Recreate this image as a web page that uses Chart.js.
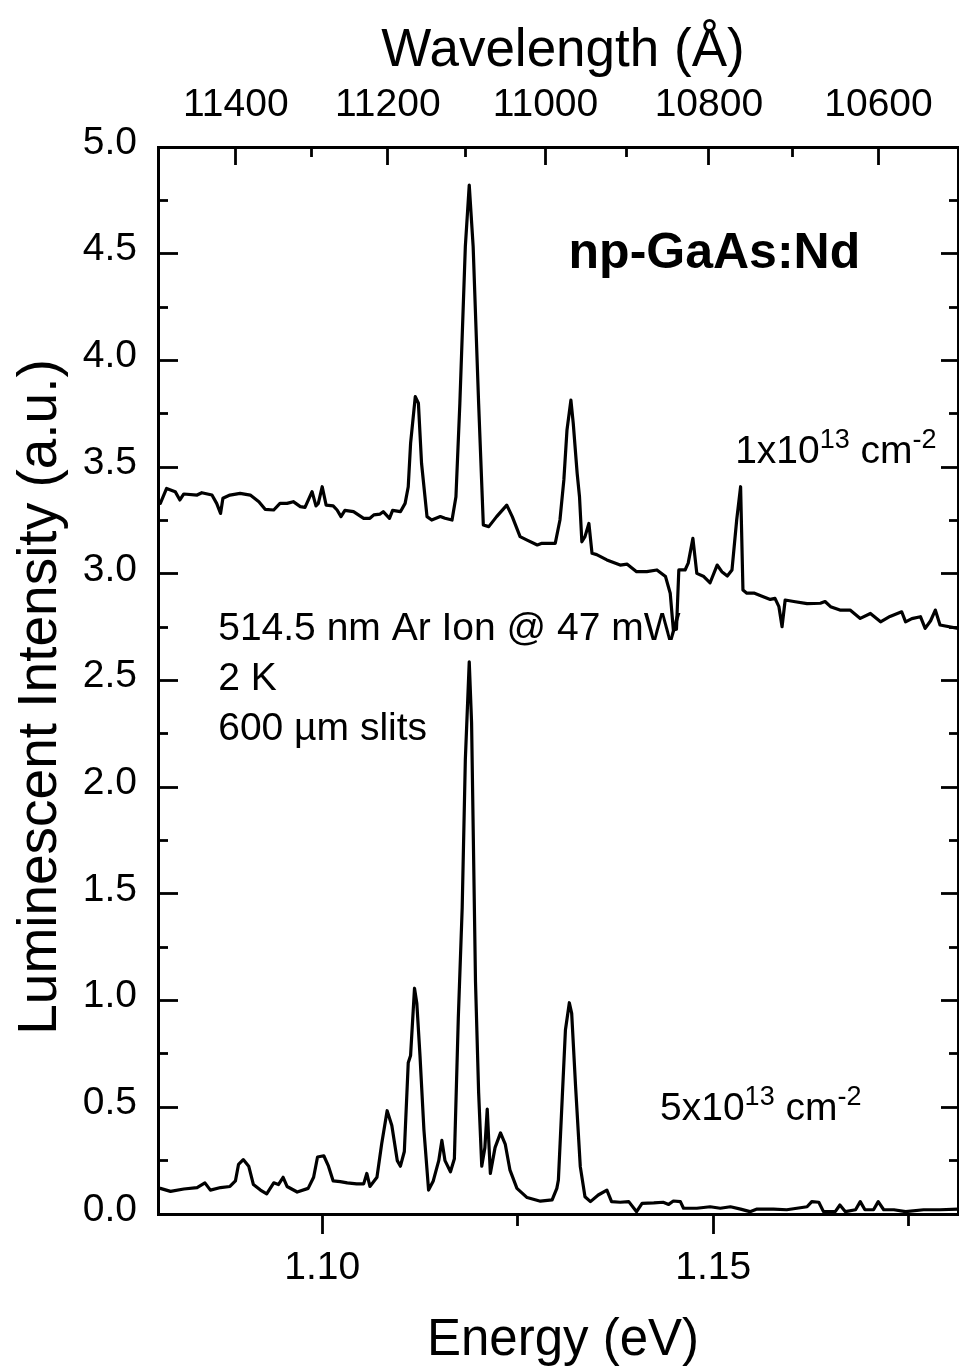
<!DOCTYPE html>
<html><head><meta charset="utf-8">
<script src="https://cdn.jsdelivr.net/npm/chart.js@4.4.0/dist/chart.umd.min.js"></script>
<style>html,body{margin:0;padding:0;background:#fff}canvas{display:block}</style>
</head><body>
<canvas id="c" width="959" height="1368"></canvas>
<script>
// ---- data ----
const upperEnergy = [1.0793,1.0801,1.0812,1.0818,1.0823,1.0840,1.0846,1.0859,1.0865,1.0870,
1.0873,1.0882,1.0895,1.0908,1.0919,1.0927,1.0938,1.0946,1.0955,1.0963,
1.0972,1.0978,1.0987,1.0992,1.0995,1.1000,1.1005,1.1014,1.1019,1.1024,
1.1029,1.1040,1.1053,1.1061,1.1066,1.1074,1.1078,1.1086,1.1090,1.1100,
1.1106,1.1110,1.1113,1.1119,1.1123,1.1127,1.1134,1.1140,1.1151,1.1157,
1.1166,1.1171,1.1176,1.1183,1.1188,1.1193,1.1200,1.1206,1.1213,1.1223,
1.1236,1.1243,1.1253,1.1262,1.1275,1.1281,1.1298,1.1304,1.1309,1.1313,
1.1318,1.1321,1.1326,1.1329,1.1332,1.1336,1.1341,1.1345,1.1351,1.1364,
1.1381,1.1390,1.1402,1.1415,1.1428,1.1439,1.1445,1.1449,1.1453,1.1456,
1.1464,1.1468,1.1474,1.1479,1.1488,1.1496,1.1505,1.1511,1.1518,1.1524,
1.1530,1.1535,1.1538,1.1543,1.1552,1.1564,1.1573,1.1579,1.1584,1.1588,
1.1592,1.1603,1.1620,1.1637,1.1643,1.1650,1.1662,1.1675,1.1688,1.1701,
1.1714,1.1726,1.1741,1.1746,1.1754,1.1765,1.1771,1.1778,1.1784,1.1790,
1.1813];
const upperIntensity = [3.33,3.40,3.385,3.346,3.374,3.369,3.380,3.369,3.330,3.283,
3.354,3.369,3.377,3.369,3.338,3.302,3.299,3.330,3.330,3.338,
3.315,3.311,3.385,3.318,3.33,3.408,3.322,3.318,3.299,3.268,
3.297,3.291,3.260,3.260,3.276,3.28,3.291,3.260,3.297,3.291,
3.330,3.408,3.611,3.830,3.799,3.518,3.268,3.252,3.268,3.26,
3.252,3.361,3.799,4.533,4.822,4.533,3.799,3.229,3.221,3.268,
3.322,3.268,3.174,3.158,3.135,3.143,3.143,3.252,3.440,3.674,
3.814,3.705,3.471,3.361,3.150,3.174,3.236,3.096,3.09,3.065,
3.041,3.045,3.010,3.010,3.018,2.987,2.909,2.737,2.74,3.018,
3.018,3.05,3.166,3.002,2.987,2.958,3.041,3.01,2.99,3.018,
3.252,3.408,2.924,2.909,2.91,2.893,2.88,2.885,2.846,2.752,
2.877,2.87,2.86,2.862,2.87,2.846,2.830,2.830,2.791,2.814,
2.775,2.80,2.822,2.775,2.79,2.799,2.744,2.78,2.830,2.760,
2.744];
const lowerEnergy = [1.0793,1.0806,1.0823,1.0840,1.0850,1.0857,1.0870,1.0882,1.0889,1.0893,
1.0899,1.0906,1.0912,1.0921,1.0929,1.0938,1.0944,1.0950,1.0955,1.0968,
1.0982,1.0989,1.0994,1.1002,1.1008,1.1014,1.1023,1.1032,1.1044,1.1053,
1.1057,1.1061,1.1070,1.1076,1.1083,1.1089,1.1096,1.1100,1.1105,1.1110,
1.1113,1.1118,1.1121,1.1125,1.1130,1.1136,1.1142,1.1149,1.1153,1.1157,
1.1164,1.1169,1.1174,1.1179,1.1183,1.1188,1.1191,1.1196,1.1200,1.1204,
1.1208,1.1211,1.1215,1.1221,1.1228,1.1234,1.1240,1.1249,1.1262,1.1279,
1.1294,1.1300,1.1302,1.1307,1.1311,1.1316,1.1319,1.1324,1.1330,1.1336,
1.1343,1.1353,1.1364,1.1370,1.1381,1.1392,1.1402,1.1409,1.1424,1.1436,
1.1443,1.1449,1.1458,1.1462,1.1479,1.1496,1.1509,1.1522,1.1535,1.1547,
1.1556,1.1577,1.1594,1.1607,1.1620,1.1626,1.1635,1.1641,1.1656,1.1662,
1.1669,1.1682,1.1688,1.1694,1.1705,1.1711,1.1718,1.1731,1.1746,1.1769,
1.1790,1.1813];
const lowerIntensity = [0.120,0.106,0.117,0.124,0.146,0.112,0.124,0.129,0.155,0.233,
0.255,0.224,0.138,0.112,0.094,0.146,0.138,0.172,0.129,0.103,
0.120,0.172,0.267,0.273,0.224,0.155,0.152,0.146,0.141,0.141,
0.190,0.129,0.172,0.328,0.484,0.415,0.250,0.224,0.293,0.709,
0.743,1.058,0.986,0.743,0.397,0.112,0.155,0.250,0.345,0.250,
0.198,0.259,0.916,1.436,2.128,2.587,2.301,1.089,0.570,0.224,
0.311,0.492,0.190,0.311,0.380,0.328,0.207,0.120,0.077,0.060,
0.066,0.120,0.159,0.550,0.862,0.990,0.940,0.597,0.222,0.081,
0.058,0.089,0.112,0.058,0.055,0.058,0.011,0.050,0.052,0.055,
0.045,0.061,0.058,0.027,0.027,0.034,0.027,0.034,0.023,0.011,
0.023,0.023,0.020,0.027,0.034,0.058,0.055,0.011,0.011,0.042,
0.011,0.020,0.058,0.020,0.020,0.058,0.020,0.020,0.011,0.020,
0.020,0.023];

// ---- axes / ticks ----
const energyRange = [1.0790, 1.1813];
const intensityRange = [0, 5];
const energyTicks = [1.10, 1.15];
const energyTickLabels = ['1.10', '1.15'];
const energyMinorTicks = [1.125, 1.175];
const intensityTicks = [0, 0.5, 1.0, 1.5, 2.0, 2.5, 3.0, 3.5, 4.0, 4.5, 5.0];
const intensityTickLabels = ['0.0','0.5','1.0','1.5','2.0','2.5','3.0','3.5','4.0','4.5','5.0'];
const intensityMinorTicks = [0.25,0.75,1.25,1.75,2.25,2.75,3.25,3.75,4.25,4.75];
const wavelengthTicks = [11400, 11200, 11000, 10800, 10600];
const wavelengthTickLabels = ['11400','11200','11000','10800','10600'];
const wavelengthMinorTicks = [11300, 11100, 10900, 10700];
const HC = 12414; // eV·Å, conversion used by the printed wavelength axis

const FONT = '"Liberation Sans", Arial, Helvetica, sans-serif';
const BLACK = '#000';

function grid(len) {
  return { drawOnChartArea: false, drawTicks: true, tickLength: len, tickWidth: 2.8, tickColor: BLACK };
}
function setTicks(values) {
  return (s) => { s.ticks = values.map(v => ({ value: v })); };
}
function fitH(h) {
  return (s) => { s.height = h; s.paddingLeft = 0; s.paddingRight = 0; };
}
function fitW(w) {
  return (s) => { s.width = w; s.paddingTop = 0; s.paddingBottom = 0; };
}
function energyAxis(extra) {
  return Object.assign({ type: 'linear', min: energyRange[0], max: energyRange[1], bounds: 'data' }, extra);
}
function intensityAxis(extra) {
  return Object.assign({ type: 'linear', min: intensityRange[0], max: intensityRange[1], bounds: 'data' }, extra);
}
const tickFont = { family: FONT, size: 39 };
const spine = { display: true, color: BLACK, width: 3 };

const annotations = [
  { e: 1.1315, v: 4.433, font: 'bold 50px ' + FONT, parts: [{ t: 'np-GaAs:Nd' }] },
  { e: 1.1528, v: 3.519, size: 39, parts: [{ t: '1x10' }, { t: '13', sup: true }, { t: ' cm' }, { t: '-2', sup: true }] },
  { e: 1.1432, v: 0.440, size: 39, parts: [{ t: '5x10' }, { t: '13', sup: true }, { t: ' cm' }, { t: '-2', sup: true }] },
  { e: 1.0867, v: 2.690, size: 39, parts: [{ t: '514.5 nm Ar Ion @ 47 mW' }] },
  { e: 1.0867, v: 2.455, size: 39, parts: [{ t: '2 K' }] },
  { e: 1.0867, v: 2.221, size: 39, parts: [{ t: '600 \u00b5m slits' }] }
];

const textPlugin = {
  id: 'texts',
  afterDraw(chart) {
    const ctx = chart.ctx;
    const xs = chart.scales.x, ys = chart.scales.y;
    const ca = chart.chartArea;
    ctx.save();
    ctx.fillStyle = BLACK;
    ctx.textBaseline = 'alphabetic';
    ctx.textAlign = 'left';
    annotations.forEach(a => {
      let x = xs.getPixelForValue(a.e);
      const y = ys.getPixelForValue(a.v);
      a.parts.forEach(p => {
        if (a.font) { ctx.font = a.font; }
        else if (p.sup) { ctx.font = Math.round(a.size * 0.68) + 'px ' + FONT; }
        else { ctx.font = a.size + 'px ' + FONT; }
        const yy = p.sup ? y - a.size * 0.38 : y;
        ctx.fillText(p.t, x, yy);
        x += ctx.measureText(p.t).width;
      });
    });
    // axis titles
    ctx.textAlign = 'center';
    const cx = (ca.left + ca.right) / 2 + 5;
    ctx.font = '53px ' + FONT;
    ctx.fillText('Wavelength (\u00c5)', cx, ca.top - 81);
    ctx.font = '51px ' + FONT;
    ctx.fillText('Energy (eV)', cx, ca.bottom + 141);
    ctx.save();
    ctx.translate(56, 697);
    ctx.rotate(-Math.PI / 2);
    ctx.font = '55px ' + FONT;
    ctx.fillText('Luminescent Intensity (a.u.)', 0, 0);
    ctx.restore();
    ctx.restore();
  }
};

const lineStyle = { showLine: true, borderColor: BLACK, borderWidth: 3.2, pointRadius: 0, tension: 0, fill: false,
  borderJoinStyle: 'round', borderCapStyle: 'round', xAxisID: 'x', yAxisID: 'y' };

new Chart(document.getElementById('c'), {
  type: 'scatter',
  data: {
    datasets: [
      Object.assign({ label: '1x10^13 cm^-2', data: upperEnergy.map((e, i) => ({ x: e, y: upperIntensity[i] })) }, lineStyle),
      Object.assign({ label: '5x10^13 cm^-2', data: lowerEnergy.map((e, i) => ({ x: e, y: lowerIntensity[i] })) }, lineStyle)
    ]
  },
  options: {
    responsive: false,
    animation: false,
    layout: { padding: 0 },
    plugins: { legend: { display: false }, tooltip: { enabled: false } },
    scales: {
      x: energyAxis({ position: 'bottom', weight: 1, grid: grid(20), border: spine,
        afterBuildTicks: setTicks(energyTicks),
        ticks: { autoSkip: false, maxRotation: 0, padding: 11, color: BLACK, font: tickFont,
          callback: (v, i) => energyTickLabels[i] },
        afterFit: fitH(154) }),
      xMinor: energyAxis({ position: 'bottom', weight: 0, grid: grid(12), border: { display: false },
        afterBuildTicks: setTicks(energyMinorTicks), ticks: { display: false, autoSkip: false },
        afterFit: fitH(0) }),
      x2: energyAxis({ position: 'top', weight: 1, grid: grid(-18), border: spine,
        afterBuildTicks: setTicks(wavelengthTicks.map(l => HC / l)),
        ticks: { autoSkip: false, maxRotation: 0, padding: 36, color: BLACK, font: tickFont,
          callback: (v, i) => wavelengthTickLabels[i] },
        afterFit: fitH(147) }),
      x2Minor: energyAxis({ position: 'top', weight: 0, grid: grid(-10), border: { display: false },
        afterBuildTicks: setTicks(wavelengthMinorTicks.map(l => HC / l)), ticks: { display: false, autoSkip: false },
        afterFit: fitH(0) }),
      y: intensityAxis({ position: 'left', weight: 1, grid: grid(-20), border: spine,
        afterBuildTicks: setTicks(intensityTicks),
        ticks: { autoSkip: false, padding: 41, labelOffset: -4, color: BLACK, font: tickFont,
          callback: (v, i) => intensityTickLabels[i] },
        afterFit: fitW(158) }),
      yMinor: intensityAxis({ position: 'left', weight: 0, grid: grid(-10), border: { display: false },
        afterBuildTicks: setTicks(intensityMinorTicks), ticks: { display: false, autoSkip: false },
        afterFit: fitW(0) }),
      yR: intensityAxis({ position: 'right', weight: 1, grid: grid(-17), border: spine,
        afterBuildTicks: setTicks(intensityTicks), ticks: { display: false, autoSkip: false },
        afterFit: fitW(1) }),
      yRMinor: intensityAxis({ position: 'right', weight: 0, grid: grid(-9), border: { display: false },
        afterBuildTicks: setTicks(intensityMinorTicks), ticks: { display: false, autoSkip: false },
        afterFit: fitW(0) })
    }
  },
  plugins: [textPlugin]
});
</script>
</body></html>
